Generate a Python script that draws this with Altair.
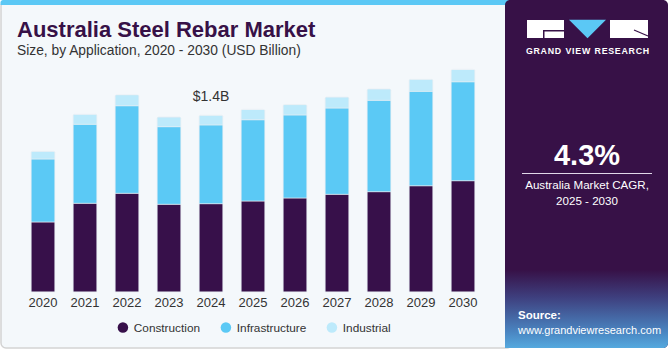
import altair as alt
import pandas as pd

years = ["2020", "2021", "2022", "2023", "2024", "2025", "2026", "2027", "2028", "2029", "2030"]
construction = [0.555, 0.703, 0.782, 0.695, 0.700, 0.721, 0.745, 0.774, 0.795, 0.842, 0.882]
infrastructure = [0.499, 0.626, 0.694, 0.615, 0.624, 0.644, 0.658, 0.684, 0.724, 0.748, 0.784]
industrial = [0.061, 0.079, 0.087, 0.077, 0.077, 0.082, 0.082, 0.087, 0.090, 0.095, 0.098]
segments = ["Construction", "Infrastructure", "Industrial"]
colors = ["#37104A", "#5BC9F5", "#BDEAFB"]
annot_year = "2024"
annot_text = "$1.4B"

rows = []
for i, y in enumerate(years):
    for k, (seg, vals) in enumerate(zip(segments, [construction, infrastructure, industrial])):
        rows.append({"year": y, "segment": seg, "value": vals[i], "order": k})
df = pd.DataFrame(rows)
tot = pd.DataFrame({"year": years,
                    "total": [a + b + c for a, b, c in zip(construction, infrastructure, industrial)]})
ann = tot[tot.year == annot_year].assign(label=annot_text)

FONT = "Liberation Sans"
W, H = 670, 350

xs = alt.Scale(domain=years, range=[22, 484], paddingInner=0.43, paddingOuter=0.215)
ys = alt.Scale(domain=[0, 2], range=[292, 292 - 2 * 126.2], nice=False, zero=True)

one = pd.DataFrame({"a": [0]})

# panels
bg_left = alt.Chart(one).mark_rect(
    fill="#F4F8FB", stroke="#D3D3D3", strokeWidth=1.5, cornerRadius=5
).encode(x=alt.value(1), x2=alt.value(512), y=alt.value(1), y2=alt.value(348))
stripe = alt.Chart(one).mark_rect(fill="#5BC8F5", cornerRadiusTopLeft=4).encode(
    x=alt.value(0.5), x2=alt.value(510), y=alt.value(0), y2=alt.value(5))
bg_right = alt.Chart(one).mark_rect(fill="#371147", cornerRadius=5).encode(
    x=alt.value(505), x2=alt.value(668), y=alt.value(0), y2=alt.value(348))
grad = alt.Chart(one).mark_rect(
    fill=alt.Gradient(gradient="linear",
                      stops=[alt.GradientStop(color="#371147", offset=0),
                             alt.GradientStop(color="#3E3F7E", offset=0.35),
                             alt.GradientStop(color="#4A86C2", offset=0.8),
                             alt.GradientStop(color="#55A9DE", offset=1)],
                      x1=0, x2=0, y1=0, y2=1),
    cornerRadiusBottomRight=5
).encode(x=alt.value(505), x2=alt.value(668), y=alt.value(270), y2=alt.value(348))

# logo
logo_g = alt.Chart(one).mark_rect(fill="white").encode(
    x=alt.value(527), x2=alt.value(564), y=alt.value(20), y2=alt.value(38))
logo_r = alt.Chart(one).mark_rect(fill="white").encode(
    x=alt.value(610), x2=alt.value(648), y=alt.value(20), y2=alt.value(38))
logo_gnotch = alt.Chart(one).mark_rect(fill="#371147").encode(
    x=alt.value(543), x2=alt.value(564), y=alt.value(30), y2=alt.value(31.5))
logo_gnotch2 = alt.Chart(one).mark_rect(fill="#371147").encode(
    x=alt.value(543), x2=alt.value(544.5), y=alt.value(30), y2=alt.value(38))
logo_rline = alt.Chart(one).mark_rule(color="#371147", strokeWidth=1.2).encode(
    x=alt.value(634), x2=alt.value(648), y=alt.value(30), y2=alt.value(36))
logo_v = alt.Chart(one).mark_point(
    shape="M-1,-0.5L1,-0.5L0,0.5Z", filled=True, fill="#5BC8F5", opacity=1, size=1369, strokeWidth=0
).encode(x=alt.value(587.5), y=alt.value(29))
logo_txt = alt.Chart(one).mark_text(
    text="\u200a".join("GRAND") + "\u2002" + "\u200a".join("VIEW") + "\u2002" + "\u200a".join("RESEARCH"),
    font=FONT, fontSize=8.8, fontWeight="bold", color="white",
    align="center", baseline="middle"
).encode(x=alt.value(587.5), y=alt.value(51))

cagr = alt.Chart(one).mark_text(
    text="4.3%", font=FONT, fontSize=29, fontWeight="bold", color="white", align="center", baseline="middle"
).encode(x=alt.value(587), y=alt.value(156))
cagr_line = alt.Chart(one).mark_rule(color="#E0D8E8", strokeWidth=1).encode(
    x=alt.value(522), x2=alt.value(652), y=alt.value(173.5))
cagr_t1 = alt.Chart(one).mark_text(
    text="Australia Market CAGR,", font=FONT, fontSize=11.6, color="white", align="center", baseline="middle"
).encode(x=alt.value(587), y=alt.value(185.5))
cagr_t2 = alt.Chart(one).mark_text(
    text="2025 - 2030", font=FONT, fontSize=11.6, color="white", align="center", baseline="middle"
).encode(x=alt.value(587), y=alt.value(201.5))
src1 = alt.Chart(one).mark_text(
    text="Source:", font=FONT, fontSize=11.5, fontWeight="bold", color="white", align="left", baseline="middle"
).encode(x=alt.value(518), y=alt.value(316))
src2 = alt.Chart(one).mark_text(
    text="www.grandviewresearch.com", font=FONT, fontSize=11, color="white", align="left", baseline="middle"
).encode(x=alt.value(518), y=alt.value(331))

title = alt.Chart(one).mark_text(
    text="Australia Steel Rebar Market", font=FONT, fontSize=22, fontWeight=900, color="#371147",
    align="left", baseline="alphabetic"
).encode(x=alt.value(17), y=alt.value(36.5))
subtitle = alt.Chart(one).mark_text(
    text="Size, by Application, 2020 - 2030 (USD Billion)", font=FONT, fontSize=13.8, color="#333333",
    align="left", baseline="alphabetic"
).encode(x=alt.value(17), y=alt.value(54.5))

bars = alt.Chart(df).mark_bar(cornerRadiusTopLeft=1.5, cornerRadiusTopRight=1.5,
                              stroke="#E8EEF4", strokeWidth=0.6).encode(
    x=alt.X("year:N", scale=xs, axis=None),
    y=alt.Y("value:Q", stack="zero", scale=ys, axis=None),
    color=alt.Color("segment:N", scale=alt.Scale(domain=segments, range=colors),
                    legend=alt.Legend(title=None, orient="none", legendX=117, legendY=321.5,
                                      direction="horizontal", symbolType="circle", symbolSize=110,
                                      symbolStrokeWidth=0, labelFont=FONT, labelFontSize=11.8,
                                      labelColor="#333333", columnPadding=19, labelOffset=5,
                                      padding=0)),
    order=alt.Order("order:Q", sort="ascending"),
)

year_labels = alt.Chart(tot).mark_text(font=FONT, fontSize=13, color="#333333", baseline="middle").encode(
    x=alt.X("year:N", scale=xs, axis=None),
    y=alt.value(302.5),
    text="year:N",
)

ann_text = alt.Chart(ann).mark_text(font=FONT, fontSize=14, color="#333333", baseline="middle", dy=-18).encode(
    x=alt.X("year:N", scale=xs, axis=None),
    y=alt.Y("total:Q", scale=ys, axis=None),
    text="label:N",
)

chart = alt.layer(
    bg_left, stripe, bg_right, grad,
    logo_g, logo_gnotch, logo_gnotch2, logo_r, logo_rline, logo_v, logo_txt,
    cagr, cagr_line, cagr_t1, cagr_t2, src1, src2,
    title, subtitle,
    bars, year_labels, ann_text,
).properties(width=W, height=H, background="white", padding=0,
             autosize=alt.AutoSizeParams(type="none")).configure_view(stroke=None)

chart.save("out.html", embed_options={"renderer": "svg", "actions": False})
